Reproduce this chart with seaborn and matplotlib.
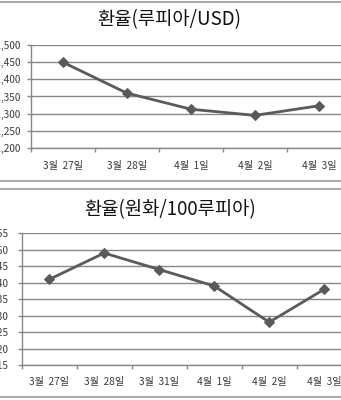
import matplotlib
matplotlib.use("Agg")
import matplotlib.pyplot as plt
from matplotlib.lines import Line2D
from matplotlib.ticker import FixedLocator, FuncFormatter
import seaborn as sns

# Rupiah per US dollar
usd_dates = ["3월  27일", "3월  28일", "4월  1일", "4월  2일", "4월  3일"]
usd_rates = [11450, 11360, 11313, 11295, 11323]
usd_ticks = [11200, 11250, 11300, 11350, 11400, 11450, 11500]

# Won per 100 rupiah
krw_dates = ["3월  27일", "3월  28일", "3월  31일", "4월  1일", "4월  2일", "4월  3일"]
krw_rates = [11.41, 11.49, 11.44, 11.39, 11.28, 11.38]
krw_ticks = [11.15, 11.20, 11.25, 11.30, 11.35, 11.40, 11.45, 11.50, 11.55]

sns.set_style("white")
plt.rcParams["font.family"] = ["Noto Sans CJK KR", "DejaVu Sans"]

W, H = 341, 400
fig = plt.figure(figsize=(W / 100, H / 100), dpi=100)
fig.patch.set_facecolor("white")

GRID = "#888888"
LINE = "#5a5a5a"
TEXT = "#3a3a3a"


def px_axes(left, top, right, bottom):
    return fig.add_axes([left / W, 1 - bottom / H, (right - left) / W, (bottom - top) / H])


def style_axes(ax, dates, ticks, fmt, ypad):
    n = len(dates)
    ax.set_xlim(-0.5, n - 0.5)
    ax.set_ylim(ticks[0], ticks[-1])
    ax.yaxis.set_major_locator(FixedLocator(ticks))
    ax.yaxis.set_major_formatter(FuncFormatter(fmt))
    ax.xaxis.set_minor_locator(FixedLocator([i - 0.5 for i in range(n + 1)]))
    ax.yaxis.grid(True, color=GRID, lw=1)
    ax.xaxis.grid(False)
    ax.set_axisbelow(True)
    for side in ("top", "right"):
        ax.spines[side].set_visible(False)
    for side in ("left", "bottom"):
        ax.spines[side].set_color(GRID)
        ax.spines[side].set_linewidth(1)
    ax.tick_params(axis="y", which="major", left=True, length=3, width=1,
                   color=GRID, labelsize=7.2, labelcolor=TEXT, pad=ypad)
    ax.tick_params(axis="x", which="major", bottom=True, length=0,
                   labelsize=7.3, labelcolor=TEXT, pad=9)
    ax.tick_params(axis="x", which="minor", bottom=True, length=3, width=1,
                   color=GRID)
    ax.set_xlabel("")
    ax.set_ylabel("")


# Top chart
ax1 = px_axes(30.7, 45, 351, 148)
sns.lineplot(x=usd_dates, y=usd_rates, ax=ax1, sort=False, color=LINE, lw=2,
             marker="D", markersize=5.5, markeredgecolor=LINE)
style_axes(ax1, usd_dates, usd_ticks, lambda v, p: f"{v:,.0f}", 4.5)
fig.text(169 / W, 1 - 20 / H, "환율(루피아/USD)", ha="center", va="center",
         fontsize=13.5, color="#111111")

# Bottom chart
ax2 = px_axes(21.7, 233.3, 351.7, 365)
sns.lineplot(x=krw_dates, y=krw_rates, ax=ax2, sort=False, color=LINE, lw=2,
             marker="D", markersize=5.5, markeredgecolor=LINE)
style_axes(ax2, krw_dates, krw_ticks, lambda v, p: f"{v:.2f}", 7)
fig.text(170 / W, 1 - 210 / H, "환율(원화/100루피아)", ha="center", va="center",
         fontsize=13.5, color="#111111")

# Chart frame edges
for y in (1.5, 181, 189, 397):
    fig.add_artist(Line2D([0, 1], [1 - y / H, 1 - y / H], transform=fig.transFigure,
                          color="#a0a0a0", lw=1.3))

fig.savefig("out.png", dpi=100)
